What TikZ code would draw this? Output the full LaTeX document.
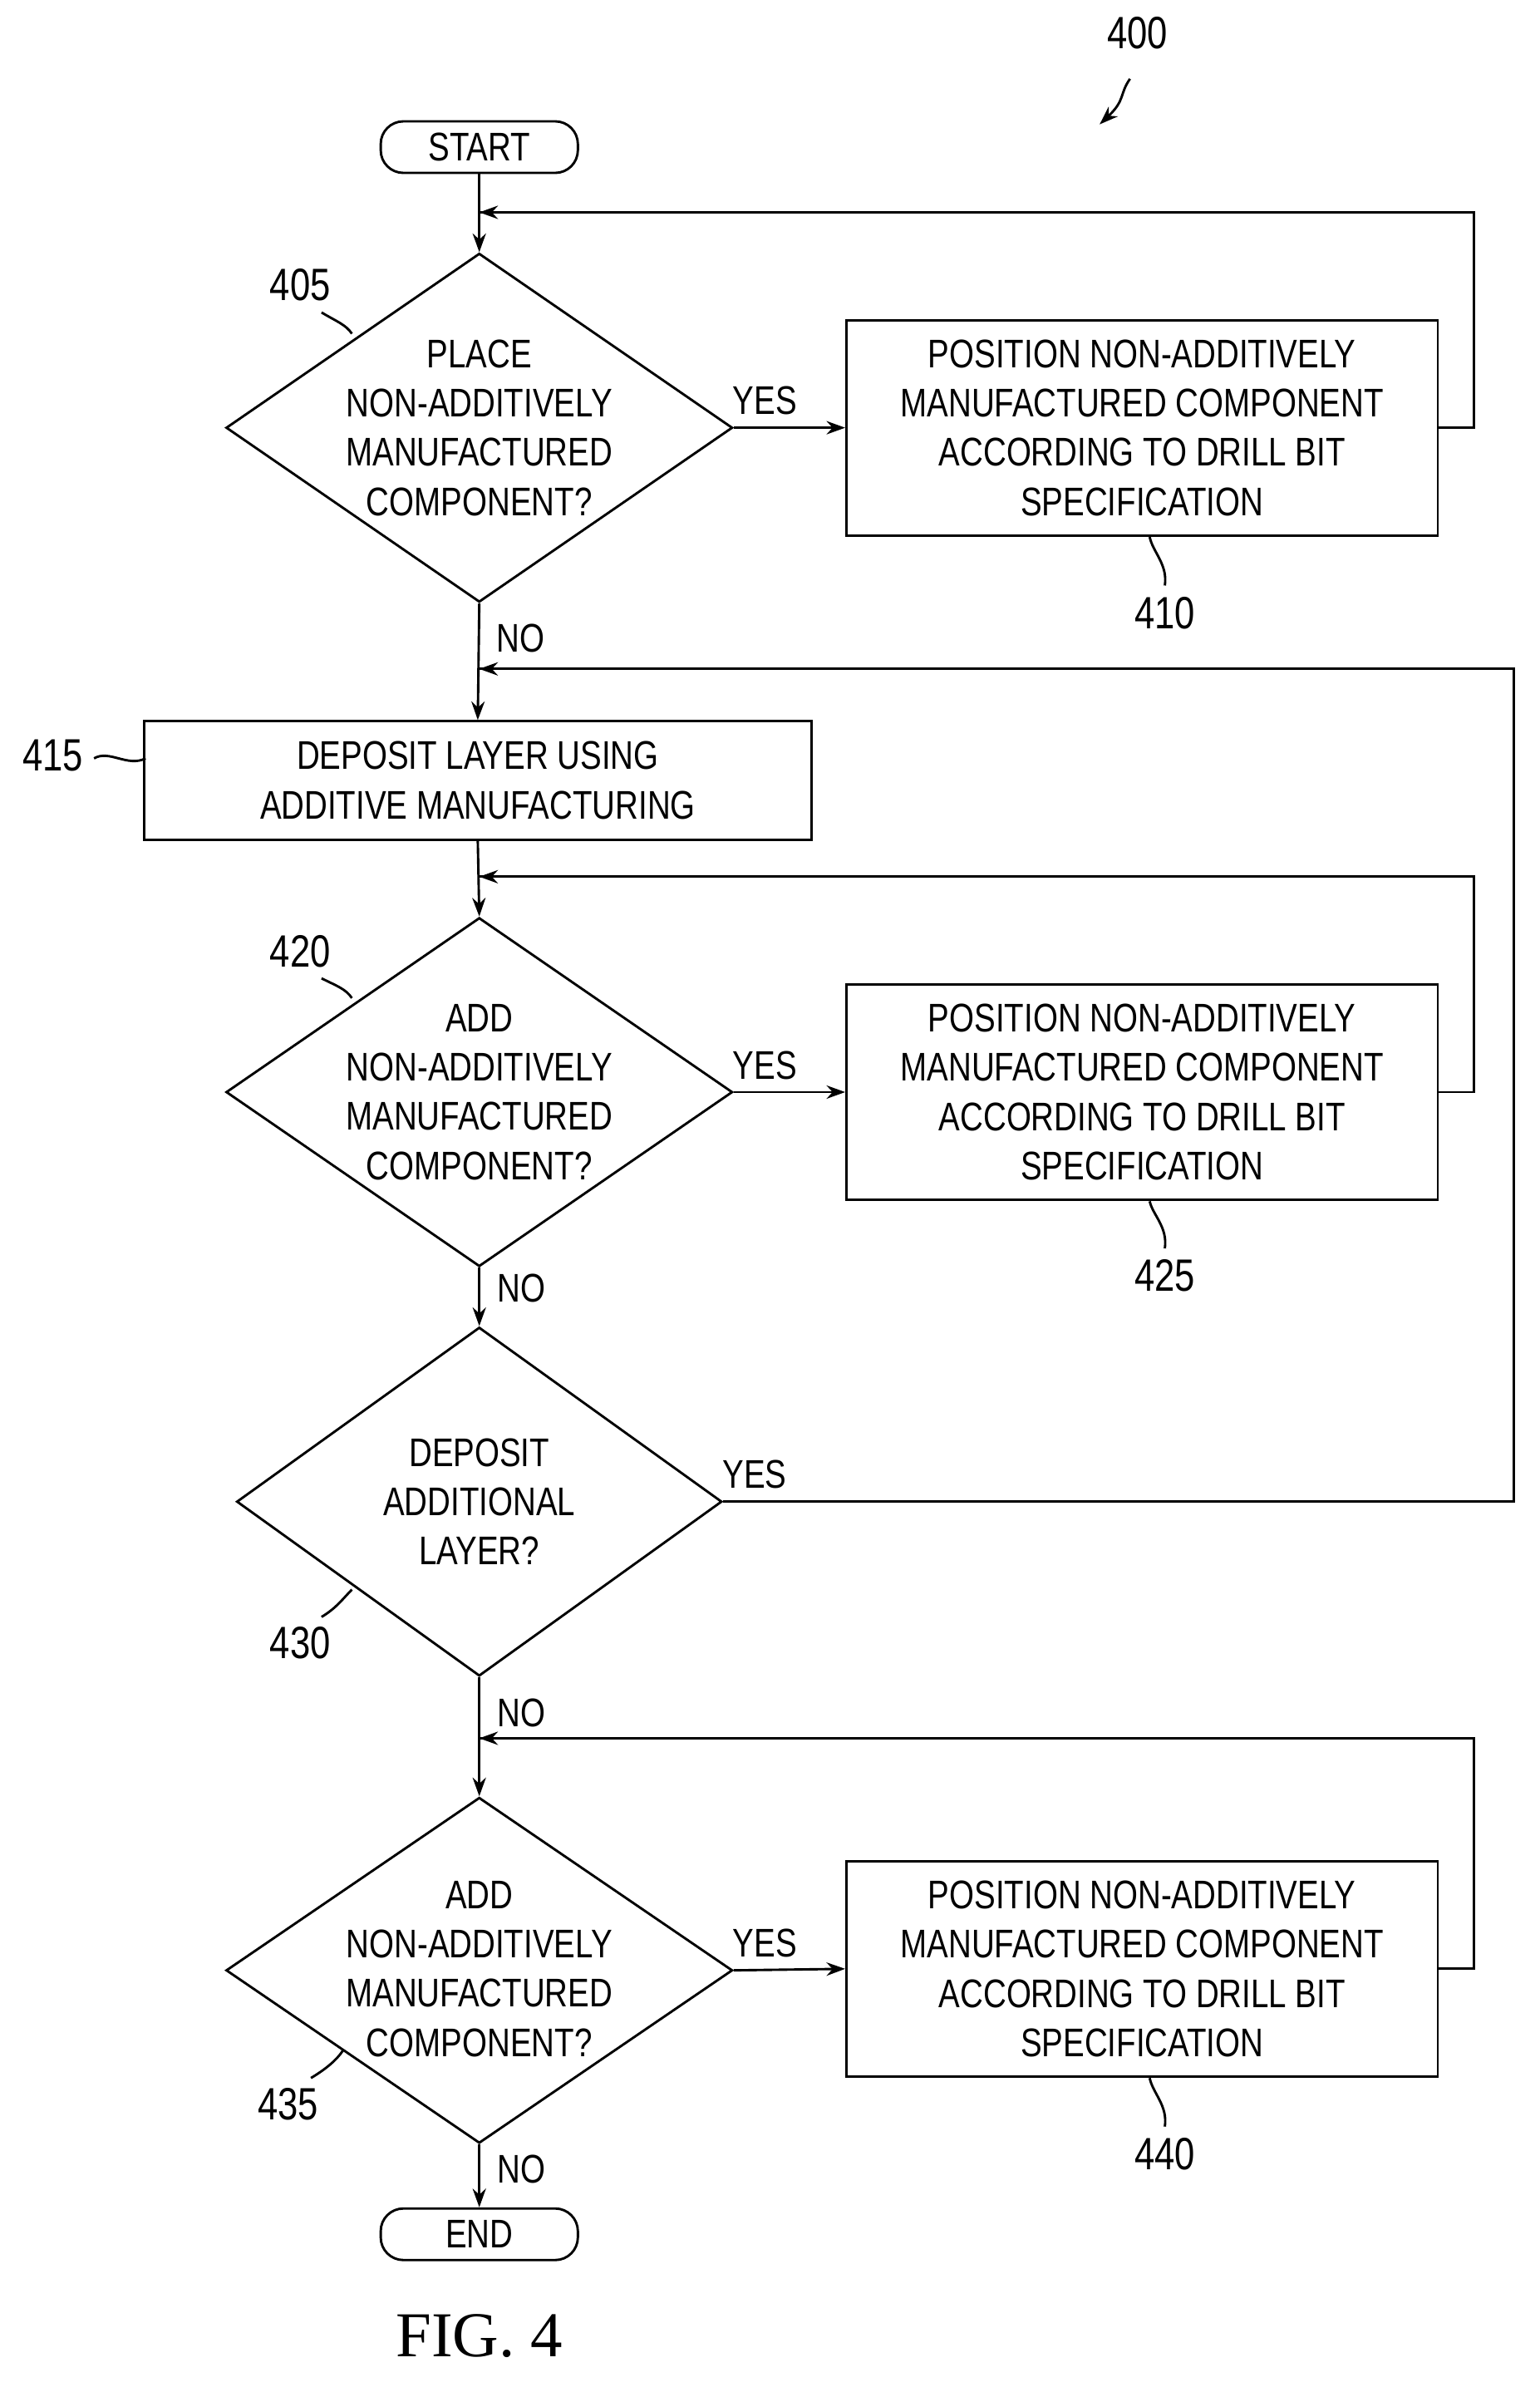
\documentclass[tikz,border=0pt]{standalone}
\usepackage{fontspec}
\setmainfont{Liberation Sans}[FakeStretch=0.8]
\newfontfamily\figfont{Liberation Serif}
\usetikzlibrary{shapes.geometric,arrows.meta}
\begin{document}
\begin{tikzpicture}[x=0.02cm,y=-0.02cm,
  every node/.style={font=\fontsize{15}{18.5}\selectfont},
  txt/.style={align=center,inner sep=0},
  box/.style={draw,line width=0.9pt,inner sep=0},
  term/.style={draw,line width=0.9pt,rounded corners=8.5pt,minimum width=2.6cm,minimum height=0.68cm,inner sep=0},
  dia/.style={draw,line width=0.9pt,diamond,inner sep=0},
  ln/.style={line width=0.9pt},
  arr/.style={line width=0.9pt,-{Stealth[length=7pt,width=5pt]}},
  lbl/.style={font=\fontsize{17}{20}\selectfont}]
\useasboundingbox (0,0) rectangle (1015,1577);
% nodes
\node[term] (start) at (316,97) {START};
\node[dia,minimum width=6.68cm,minimum height=4.6cm] (d405) at (316,282) {};
\node[txt] at (316,282) {PLACE\\NON-ADDITIVELY\\MANUFACTURED\\COMPONENT?};
\node[box,minimum width=7.8cm,minimum height=2.84cm] (b410) at (753,282) {};
\node[txt] at (753,282) {POSITION NON-ADDITIVELY\\MANUFACTURED COMPONENT\\ACCORDING TO DRILL BIT\\SPECIFICATION};
\node[box,minimum width=8.8cm,minimum height=1.56cm] (b415) at (315,514.5) {};
\node[txt] at (315,514.5) {DEPOSIT LAYER USING\\ADDITIVE MANUFACTURING};
\node[dia,minimum width=6.68cm,minimum height=4.6cm] (d420) at (316,720) {};
\node[txt] at (316,720) {ADD\\NON-ADDITIVELY\\MANUFACTURED\\COMPONENT?};
\node[box,minimum width=7.8cm,minimum height=2.84cm] (b425) at (753,720) {};
\node[txt] at (753,720) {POSITION NON-ADDITIVELY\\MANUFACTURED COMPONENT\\ACCORDING TO DRILL BIT\\SPECIFICATION};
\node[dia,minimum width=6.4cm,minimum height=4.6cm] (d430) at (316,990) {};
\node[txt] at (316,990) {DEPOSIT\\ADDITIONAL\\LAYER?};
\node[dia,minimum width=6.68cm,minimum height=4.56cm] (d435) at (316,1299) {};
\node[txt] at (316,1298) {ADD\\NON-ADDITIVELY\\MANUFACTURED\\COMPONENT?};
\node[box,minimum width=7.8cm,minimum height=2.84cm] (b440) at (753,1298) {};
\node[txt] at (753,1298) {POSITION NON-ADDITIVELY\\MANUFACTURED COMPONENT\\ACCORDING TO DRILL BIT\\SPECIFICATION};
\node[term] (end) at (316,1473) {END};
% coordinates
\coordinate (j1) at (316,140);
\coordinate (j2) at (316,441);
\coordinate (j3) at (316,578);
\coordinate (j4) at (316,1146);
% connectors
\draw[arr] (start.south) -- (d405.north);
\draw[ln] (b410.east) -- (972,282) |- (j1);
\draw[arr] (d405.east) -- node[above,pos=0.28,yshift=1pt]{YES} (b410.west);
\draw[arr] (d405.south) -- node[right,pos=0.3,xshift=3pt]{NO} (b415.north);
\draw[ln] (d430.east) -- node[above,pos=0.04,yshift=1pt]{YES} (998,990) |- (j2);
\draw[arr] (b415.south) -- (d420.north);
\draw[ln] (b425.east) -- (972,720) |- (j3);
\draw[arr] (d420.east) -- node[above,pos=0.28,yshift=1pt]{YES} (b425.west);
\draw[arr] (d420.south) -- node[right,pos=0.35,xshift=3pt]{NO} (d430.north);
\draw[arr] (d430.south) -- node[right,pos=0.3,xshift=3pt]{NO} (d435.north);
\draw[ln] (b440.east) -- (972,1298) |- (j4);
\draw[arr] (d435.east) -- node[above,pos=0.28,yshift=1pt]{YES} (b440.west);
\draw[arr] (d435.south) -- node[right,pos=0.4,xshift=3pt]{NO} (end.north);
% arrowheads at loop joins
\draw[arr] (336,140) -- (j1);
\draw[arr] (336,441) -- (j2);
\draw[arr] (336,578) -- (j3);
\draw[arr] (336,1146) -- (j4);
% labels
\node[lbl] (l400) at (750,22) {400};
\coordinate (a400) at (725,82);
\draw[arr] (745,52) .. controls (738,62) and (742,66) .. (a400);
\node[lbl] (l405) at (198,188) {405};
\draw[ln] (212,206) .. controls (222,212) and (228,214) .. (232,220);
\node[lbl] (l410) at (768,404) {410};
\draw[ln] (768,386) .. controls (770,372) and (760,364) .. (758,354);
\node[lbl] (l415) at (35,498) {415};
\draw[ln] (62,500) .. controls (72,494) and (84,506) .. (96,500);
\node[lbl] (l420) at (198,627) {420};
\draw[ln] (212,645) .. controls (222,650) and (228,652) .. (232,658);
\node[lbl] (l425) at (768,841) {425};
\draw[ln] (768,823) .. controls (770,809) and (760,801) .. (758,792);
\node[lbl] (l430) at (198,1083) {430};
\draw[ln] (212,1066) .. controls (222,1060) and (226,1054) .. (232,1048);
\node[lbl] (l435) at (190,1387) {435};
\draw[ln] (205,1370) .. controls (215,1364) and (222,1358) .. (226,1352);
\node[lbl] (l440) at (768,1420) {440};
\draw[ln] (768,1402) .. controls (770,1388) and (760,1380) .. (758,1370);
\node[font=\figfont\fontsize{24}{28}\selectfont] (fig) at (316,1540) {FIG. 4};
\end{tikzpicture}
\end{document}
